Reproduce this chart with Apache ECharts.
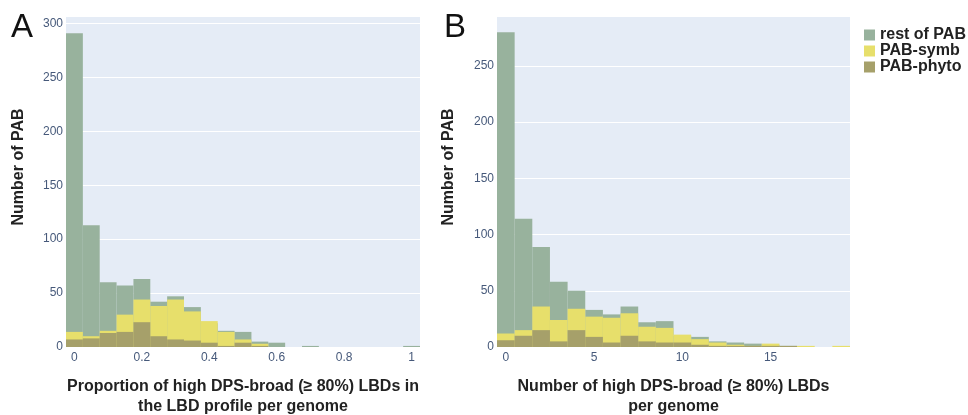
<!DOCTYPE html>
<html>
<head>
<meta charset="utf-8">
<script src="https://cdn.jsdelivr.net/npm/echarts@6/dist/echarts.min.js"></script>
<style>
  html, body { margin: 0; padding: 0; background: #ffffff; }
  #chart { width: 968px; height: 415px; }
</style>
</head>
<body>
<div id="chart"></div>
<script>
// ---- Data ----
// Panel A: bins of proportion (width 0.05, centred on these values)
const binsA = ['0','0.05','0.1','0.15','0.2','0.25','0.3','0.35','0.4','0.45','0.5',
               '0.55','0.6','0.65','0.7','0.75','0.8','0.85','0.9','0.95','1'];
const restA  = [291, 113, 60, 57, 63, 42, 47, 37, 22, 15, 14, 5, 4, 0, 1, 0, 0, 0, 0, 0, 1];
const symbA  = [14, 10, 15, 30, 44, 38, 44, 33, 24, 14, 7, 3, 0, 0, 0, 0, 0, 0, 0, 0, 0];
const phytoA = [7, 8, 13, 14, 23, 10, 7, 6, 4, 1, 4, 1, 0, 0, 0, 0, 0, 0, 0, 0, 0];

// Panel B: number of LBDs per genome (integer bins)
const binsB = ['0','1','2','3','4','5','6','7','8','9','10','11','12','13','14','15','16','17','18','19'];
const restB  = [280, 114, 89, 58, 50, 33, 29, 36, 22, 23, 10, 9, 5, 4, 3, 2, 1, 0, 0, 0];
const symbB  = [12, 15, 36, 24, 34, 27, 26, 30, 18, 17, 11, 7, 4, 2, 1, 3, 0, 1, 0, 1];
const phytoB = [6, 10, 15, 5, 15, 9, 4, 10, 5, 4, 4, 2, 1, 1, 1, 1, 1, 0, 0, 0];

const seriesNames = ['rest of PAB', 'PAB-symb', 'PAB-phyto'];
const yTitle = 'Number of PAB';
const xTitleA = 'Proportion of high DPS-broad (≥ 80%) LBDs in\nthe LBD profile per genome';
const xTitleB = 'Number of high DPS-broad (≥ 80%) LBDs\nper genome';

// ---- Styles ----
const colors = ['#98b29d', '#e7df6b', '#a6a06a'];
const FONT = '"Liberation Sans", Arial, sans-serif';
const tickColor = '#46597a';
const titleColor = '#222222';

const chart = echarts.init(document.getElementById('chart'), null, { renderer: 'canvas' });

function xAxisFor(idx, data, interval, name) {
  return {
    type: 'category', gridIndex: idx, data: data, boundaryGap: true,
    axisLine: { show: false }, axisTick: { show: false },
    axisLabel: { interval: interval, color: tickColor, fontSize: 12, fontFamily: FONT, margin: 5 },
    splitLine: { show: false },
    name: name, nameLocation: 'middle', nameGap: 30,
    nameTextStyle: { fontSize: 16, fontWeight: 'bold', color: titleColor, fontFamily: FONT, lineHeight: 19.5 }
  };
}
function yAxisFor(idx, max) {
  return {
    type: 'value', gridIndex: idx, min: 0, max: max, interval: 50,
    axisLine: { show: false }, axisTick: { show: false },
    axisLabel: {
      color: tickColor, fontSize: 12, fontFamily: FONT, margin: 3, showMaxLabel: false,
      formatter: function (v) { return (v % 50 === 0) ? String(v) : ''; }
    },
    splitLine: { show: true, showMaxLine: false, lineStyle: { color: '#ffffff', width: 1 } }
  };
}
function barSeries(name, data, idx, color) {
  return {
    type: 'bar', name: name, data: data, xAxisIndex: idx, yAxisIndex: idx,
    barWidth: '100%', barGap: '-100%', barCategoryGap: '0%',
    itemStyle: { color: color }, emphasis: { disabled: true }, animation: false
  };
}

chart.setOption({
  animation: false,
  backgroundColor: '#ffffff',
  textStyle: { fontFamily: FONT },
  grid: [
    { left: 66, top: 17, width: 354, height: 330, backgroundColor: '#e5ecf6', show: true, borderWidth: 0,
      containLabel: false, outerBoundsMode: 'none' },
    { left: 497, top: 17, width: 353, height: 330, backgroundColor: '#e5ecf6', show: true, borderWidth: 0,
      containLabel: false, outerBoundsMode: 'none' }
  ],
  xAxis: [ xAxisFor(0, binsA, 3, xTitleA), xAxisFor(1, binsB, 4, xTitleB) ],
  yAxis: [ yAxisFor(0, 306), yAxisFor(1, 293.5) ],
  legend: {
    orient: 'vertical', left: 859, top: 22, itemWidth: 11, itemHeight: 11, itemGap: 0,
    icon: 'rect', data: seriesNames,
    textStyle: { fontSize: 16, fontWeight: 'bold', color: titleColor, fontFamily: FONT, lineHeight: 15.5 }
  },
  graphic: [
    { type: 'text', left: 11, top: 11, style: { text: 'A', fontSize: 33, fill: '#111', fontFamily: FONT } },
    { type: 'text', left: 444, top: 11, style: { text: 'B', fontSize: 33, fill: '#111', fontFamily: FONT } },
    { type: 'text', x: 18.5, y: 167, rotation: Math.PI / 2,
      style: { text: yTitle, fontSize: 16, fontWeight: 'bold', fill: titleColor, fontFamily: FONT, align: 'center', verticalAlign: 'middle' } },
    { type: 'text', x: 449, y: 167, rotation: Math.PI / 2,
      style: { text: yTitle, fontSize: 16, fontWeight: 'bold', fill: titleColor, fontFamily: FONT, align: 'center', verticalAlign: 'middle' } }
  ],
  series: [
    barSeries(seriesNames[0], restA, 0, colors[0]),
    barSeries(seriesNames[1], symbA, 0, colors[1]),
    barSeries(seriesNames[2], phytoA, 0, colors[2]),
    barSeries(seriesNames[0], restB, 1, colors[0]),
    barSeries(seriesNames[1], symbB, 1, colors[1]),
    barSeries(seriesNames[2], phytoB, 1, colors[2])
  ]
});
</script>
</body>
</html>
